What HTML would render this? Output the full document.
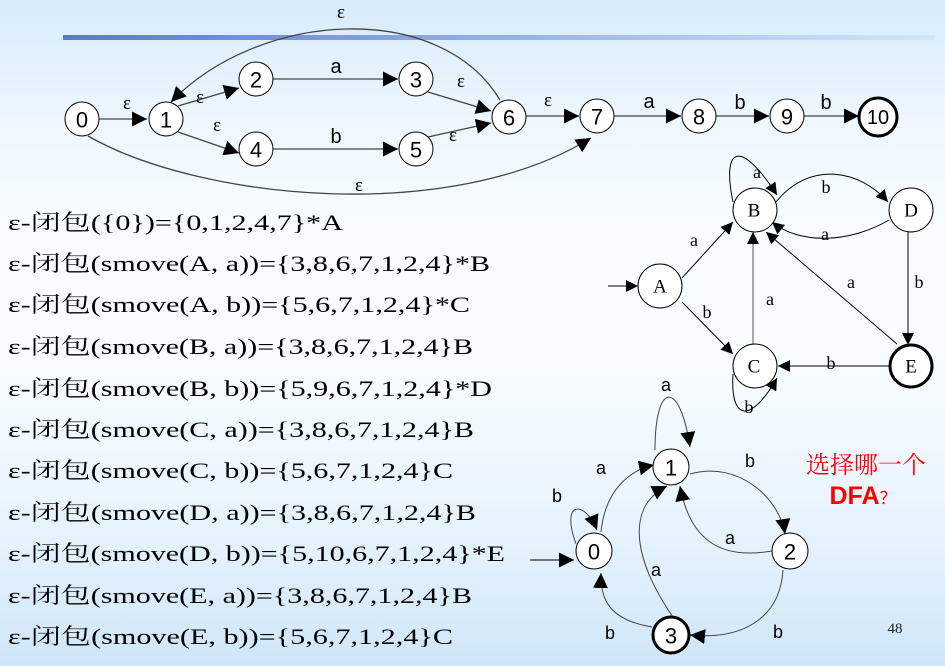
<!DOCTYPE html>
<html><head><meta charset="utf-8"><style>
html,body{margin:0;padding:0;}
body{width:945px;height:666px;overflow:hidden;background:linear-gradient(to bottom,#d6ebfb 0%,#eef7fe 18%,#f8fcff 35%,#f8fcff 55%,#e6f3fd 80%,#cfe6f8 100%);}
svg{position:absolute;left:0;top:0;}
.s{font-family:"Liberation Serif","Noto Serif CJK SC",serif;font-size:22px;fill:#000;}
.n{font-family:"Liberation Sans",sans-serif;font-size:22px;}
.l{font-family:"Liberation Sans",sans-serif;font-size:18px;}
.e{font-family:"Liberation Serif",serif;font-size:19px;}
.d{font-family:"Liberation Serif","Noto Serif CJK SC",serif;font-size:19px;}
</style></head><body>
<svg width="945" height="666" viewBox="0 0 945 666">
<defs>
<linearGradient id="bl" x1="0" x2="1"><stop offset="0" stop-color="#5a78d4"/><stop offset="1" stop-color="#d0e8fa"/></linearGradient>
<marker id="a" viewBox="0 0 10 10" refX="10" refY="5" markerWidth="15" markerHeight="15" markerUnits="userSpaceOnUse" orient="auto"><path d="M0,0L10,5L0,10z" fill="#000"/></marker>
<marker id="b" viewBox="0 0 10 10" refX="10" refY="5" markerWidth="12" markerHeight="12" markerUnits="userSpaceOnUse" orient="auto"><path d="M0,0L10,5L0,10z" fill="#000"/></marker>
</defs>
<rect x="63" y="35" width="872" height="5" fill="url(#bl)"/>
<g fill="none" stroke="#000" stroke-width="1">
<g stroke="#444" stroke-width="1.3">
<path d="M99,119H147" marker-end="url(#a)"/>
<path d="M178,106L239,88" marker-end="url(#a)"/>
<path d="M178,132L239,153" marker-end="url(#a)"/>
<path d="M273,79H398" marker-end="url(#a)"/>
<path d="M273,149H398" marker-end="url(#a)"/>
<path d="M428,92L491,111" marker-end="url(#a)"/>
<path d="M428,137L491,123" marker-end="url(#a)"/>
<path d="M526,116H579" marker-end="url(#a)"/>
<path d="M614,116H681" marker-end="url(#a)"/>
<path d="M716,116H769" marker-end="url(#a)"/>
<path d="M804,116H859" marker-end="url(#a)"/>
<path d="M500,100C440,0 260,10 171,102" marker-end="url(#a)"/>
<path d="M88,136C200,200 450,225 591,138" marker-end="url(#a)"/>
</g>
<g fill="#fff">
<circle cx="82" cy="119" r="17"/><circle cx="166" cy="119" r="17"/><circle cx="256" cy="79" r="17"/><circle cx="416" cy="79" r="17"/><circle cx="256" cy="149" r="17"/><circle cx="416" cy="149" r="17"/><circle cx="509" cy="117" r="17"/><circle cx="597" cy="116" r="17"/><circle cx="699" cy="116" r="17"/><circle cx="787" cy="116" r="17"/><circle cx="878" cy="117" r="19" stroke-width="3"/>
</g>
<path d="M608,286H638" marker-end="url(#b)"/>
<path d="M682,278L733,222" marker-end="url(#b)"/>
<path d="M682,302L733,354" marker-end="url(#b)"/>
<path d="M753,346V232" stroke="#555" marker-end="url(#b)"/>
<path d="M897,344L766,232" marker-end="url(#b)"/>
<path d="M908,232V345" marker-end="url(#b)"/>
<path d="M889,366H778" marker-end="url(#b)"/>
<path d="M776,202C810,160 860,170 888,202" marker-end="url(#b)"/>
<path d="M889,220C850,243 800,245 772,222" marker-end="url(#b)"/>
<path d="M733,202C722,150 738,135 777,195" marker-end="url(#b)"/>
<path d="M733,374C730,420 750,425 777,378" marker-end="url(#b)"/>
<g fill="#fff">
<circle cx="660" cy="286" r="22"/><circle cx="755" cy="210" r="22"/><circle cx="911" cy="210" r="22"/><circle cx="755" cy="366" r="22"/><circle cx="911" cy="366" r="21" stroke-width="3"/>
</g>
<path d="M530,560H574" marker-end="url(#a)"/>
<path d="M601,532C605,490 630,470 654,465" stroke="#444" marker-end="url(#a)"/>
<path d="M576,544C560,500 585,500 597,530" stroke="#444" marker-end="url(#a)"/>
<path d="M655,450C655,380 680,380 690,447" stroke="#444" marker-end="url(#a)"/>
<path d="M690,474C740,460 780,500 785,534" stroke="#444" marker-end="url(#a)"/>
<path d="M772,551C720,560 690,540 680,486" stroke="#444" marker-end="url(#a)"/>
<path d="M673,617C640,570 620,510 667,486" stroke="#444" marker-end="url(#a)"/>
<path d="M652,627C610,620 600,600 601,573" stroke="#444" marker-end="url(#a)"/>
<path d="M783,570C780,620 740,640 690,635" stroke="#444" marker-end="url(#a)"/>
<g fill="#fff">
<circle cx="594" cy="551" r="18"/><circle cx="671" cy="467" r="18"/><circle cx="790" cy="551" r="18"/><circle cx="671" cy="635" r="18" stroke-width="3"/>
</g>
</g>
<g class="n" text-anchor="middle" dominant-baseline="central">
<text x="82" y="120">0</text><text x="166" y="120">1</text><text x="256" y="80">2</text><text x="416" y="80">3</text><text x="256" y="150">4</text><text x="416" y="150">5</text><text x="509" y="118">6</text><text x="597" y="117">7</text><text x="699" y="117">8</text><text x="787" y="117">9</text><text x="878" y="118" style="font-size:20px">10</text>
</g>
<g class="e" text-anchor="middle">
<text x="127" y="109">ε</text><text x="200" y="103">ε</text><text x="217" y="131">ε</text><text x="461" y="87">ε</text><text x="453" y="141">ε</text><text x="548" y="106">ε</text><text x="341" y="18">ε</text><text x="359" y="191">ε</text>
</g>
<g class="l" text-anchor="middle" style="font-size:20px">
<text x="336" y="73">a</text><text x="336" y="143">b</text><text x="649" y="108">a</text><text x="740" y="109">b</text><text x="826" y="109">b</text>
</g>
<g class="d" text-anchor="middle" dominant-baseline="central">
<text x="660" y="287">A</text><text x="754" y="211">B</text><text x="911" y="211">D</text><text x="754" y="367">C</text><text x="911" y="367">E</text>
</g>
<g class="e" text-anchor="middle" style="font-size:18px">
<text x="694" y="246">a</text><text x="707" y="318">b</text><text x="770" y="305">a</text><text x="851" y="288">a</text><text x="919" y="288">b</text><text x="831" y="369">b</text><text x="826" y="193">b</text><text x="825" y="240">a</text><text x="757" y="178">a</text><text x="749" y="413">b</text>
</g>
<g class="n" text-anchor="middle" dominant-baseline="central">
<text x="594" y="552">0</text><text x="671" y="468">1</text><text x="790" y="552">2</text><text x="671" y="636">3</text>
</g>
<g class="l" text-anchor="middle">
<text x="666" y="391">a</text><text x="601" y="474">a</text><text x="557" y="502">b</text><text x="750" y="467">b</text><text x="730" y="544">a</text><text x="656" y="576">a</text><text x="610" y="639">b</text><text x="778" y="638">b</text>
</g>
<text x="866" y="473" text-anchor="middle" style="font-family:'Liberation Serif','Noto Serif CJK SC',serif;font-size:24px;fill:#ff0000">选择哪一个</text>
<text x="863" y="504" text-anchor="middle" style="font-family:'Liberation Sans','Noto Sans CJK SC',sans-serif;font-size:25px;font-weight:bold;fill:#ff0000">DFA<tspan style="font-size:17px;font-weight:normal">？</tspan></text>
<text x="895" y="633" text-anchor="middle" style="font-family:'Liberation Serif',serif;font-size:15px;fill:#222">48</text>
<g class="s">
<text x="8" y="230" textLength="335" lengthAdjust="spacingAndGlyphs">ε-闭包({0})={0,1,2,4,7}*A</text>
<text x="8" y="271" textLength="482" lengthAdjust="spacingAndGlyphs">ε-闭包(smove(A, a))={3,8,6,7,1,2,4}*B</text>
<text x="8" y="312" textLength="462" lengthAdjust="spacingAndGlyphs">ε-闭包(smove(A, b))={5,6,7,1,2,4}*C</text>
<text x="8" y="354" textLength="465" lengthAdjust="spacingAndGlyphs">ε-闭包(smove(B, a))={3,8,6,7,1,2,4}B</text>
<text x="8" y="396" textLength="484" lengthAdjust="spacingAndGlyphs">ε-闭包(smove(B, b))={5,9,6,7,1,2,4}*D</text>
<text x="8" y="437" textLength="466" lengthAdjust="spacingAndGlyphs">ε-闭包(smove(C, a))={3,8,6,7,1,2,4}B</text>
<text x="8" y="478" textLength="445" lengthAdjust="spacingAndGlyphs">ε-闭包(smove(C, b))={5,6,7,1,2,4}C</text>
<text x="8" y="520" textLength="468" lengthAdjust="spacingAndGlyphs">ε-闭包(smove(D, a))={3,8,6,7,1,2,4}B</text>
<text x="8" y="561" textLength="497" lengthAdjust="spacingAndGlyphs">ε-闭包(smove(D, b))={5,10,6,7,1,2,4}*E</text>
<text x="8" y="603" textLength="464" lengthAdjust="spacingAndGlyphs">ε-闭包(smove(E, a))={3,8,6,7,1,2,4}B</text>
<text x="8" y="644" textLength="445" lengthAdjust="spacingAndGlyphs">ε-闭包(smove(E, b))={5,6,7,1,2,4}C</text>
</g>
</svg>
</body></html>
